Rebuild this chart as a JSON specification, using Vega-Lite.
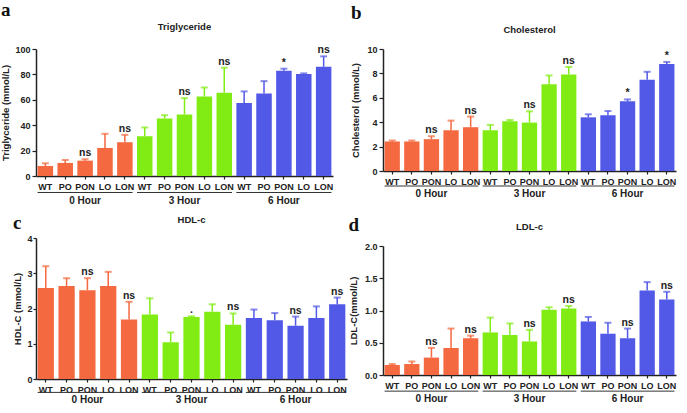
{
  "$schema": "https://vega.github.io/schema/vega-lite/v6.json",
  "padding": {"left": 0, "top": 0, "right": 2, "bottom": 0},
  "background": "white",
  "config": {
    "view": {"stroke": null},
    "axis": {"grid": false, "labelOverlap": false, "labelSeparation": 0, "labelFlush": false, "domainColor": "#222", "domainWidth": 1.5, "tickColor": "#222", "tickWidth": 1.2, "labelColor": "#222", "labelFont": "Liberation Sans", "labelFontWeight": "bold", "labelFontSize": 9, "titleFont": "Liberation Sans", "titleFontWeight": "bold", "titleFontSize": 9.5, "titleColor": "#222"},
    "title": {"font": "Liberation Sans", "fontSize": 9.5, "fontWeight": "bold", "color": "#222"}
  },
  "datasets": {
    "tg": [
      {"time": "0 Hour", "cond": "WT", "key": "0 Hour WT", "mean": 7.9, "upper": 10.0, "sig": ""},
      {"time": "0 Hour", "cond": "PO", "key": "0 Hour PO", "mean": 10.3, "upper": 12.6, "sig": ""},
      {"time": "0 Hour", "cond": "PON", "key": "0 Hour PON", "mean": 12.1, "upper": 13.2, "sig": "ns"},
      {"time": "0 Hour", "cond": "LO", "key": "0 Hour LO", "mean": 22.1, "upper": 33.2, "sig": ""},
      {"time": "0 Hour", "cond": "LON", "key": "0 Hour LON", "mean": 26.6, "upper": 32.4, "sig": "ns"},
      {"time": "3 Hour", "cond": "WT", "key": "3 Hour WT", "mean": 31.3, "upper": 38.2, "sig": ""},
      {"time": "3 Hour", "cond": "PO", "key": "3 Hour PO", "mean": 45.3, "upper": 47.9, "sig": ""},
      {"time": "3 Hour", "cond": "PON", "key": "3 Hour PON", "mean": 48.4, "upper": 61.3, "sig": "ns"},
      {"time": "3 Hour", "cond": "LO", "key": "3 Hour LO", "mean": 62.6, "upper": 69.7, "sig": ""},
      {"time": "3 Hour", "cond": "LON", "key": "3 Hour LON", "mean": 65.5, "upper": 85.3, "sig": "ns"},
      {"time": "6 Hour", "cond": "WT", "key": "6 Hour WT", "mean": 57.4, "upper": 66.6, "sig": ""},
      {"time": "6 Hour", "cond": "PO", "key": "6 Hour PO", "mean": 65.0, "upper": 74.7, "sig": ""},
      {"time": "6 Hour", "cond": "PON", "key": "6 Hour PON", "mean": 82.9, "upper": 84.5, "sig": "*"},
      {"time": "6 Hour", "cond": "LO", "key": "6 Hour LO", "mean": 80.3, "upper": 80.8, "sig": ""},
      {"time": "6 Hour", "cond": "LON", "key": "6 Hour LON", "mean": 86.0, "upper": 94.2, "sig": "ns"}
    ],
    "chol": [
      {"time": "0 Hour", "cond": "WT", "key": "0 Hour WT", "mean": 2.42, "upper": 2.5, "sig": ""},
      {"time": "0 Hour", "cond": "PO", "key": "0 Hour PO", "mean": 2.42, "upper": 2.5, "sig": ""},
      {"time": "0 Hour", "cond": "PON", "key": "0 Hour PON", "mean": 2.61, "upper": 2.85, "sig": "ns"},
      {"time": "0 Hour", "cond": "LO", "key": "0 Hour LO", "mean": 3.34, "upper": 4.13, "sig": ""},
      {"time": "0 Hour", "cond": "LON", "key": "0 Hour LON", "mean": 3.59, "upper": 4.46, "sig": "ns"},
      {"time": "3 Hour", "cond": "WT", "key": "3 Hour WT", "mean": 3.34, "upper": 3.78, "sig": ""},
      {"time": "3 Hour", "cond": "PO", "key": "3 Hour PO", "mean": 4.08, "upper": 4.18, "sig": ""},
      {"time": "3 Hour", "cond": "PON", "key": "3 Hour PON", "mean": 3.97, "upper": 4.89, "sig": "ns"},
      {"time": "3 Hour", "cond": "LO", "key": "3 Hour LO", "mean": 7.12, "upper": 7.83, "sig": ""},
      {"time": "3 Hour", "cond": "LON", "key": "3 Hour LON", "mean": 7.91, "upper": 8.53, "sig": "ns"},
      {"time": "6 Hour", "cond": "WT", "key": "6 Hour WT", "mean": 4.4, "upper": 4.65, "sig": ""},
      {"time": "6 Hour", "cond": "PO", "key": "6 Hour PO", "mean": 4.57, "upper": 4.92, "sig": ""},
      {"time": "6 Hour", "cond": "PON", "key": "6 Hour PON", "mean": 5.71, "upper": 5.87, "sig": "*"},
      {"time": "6 Hour", "cond": "LO", "key": "6 Hour LO", "mean": 7.47, "upper": 8.13, "sig": ""},
      {"time": "6 Hour", "cond": "LON", "key": "6 Hour LON", "mean": 8.78, "upper": 8.94, "sig": "*"}
    ],
    "hdl": [
      {"time": "0 Hour", "cond": "WT", "key": "0 Hour WT", "mean": 2.58, "upper": 3.2, "sig": ""},
      {"time": "0 Hour", "cond": "PO", "key": "0 Hour PO", "mean": 2.64, "upper": 2.86, "sig": ""},
      {"time": "0 Hour", "cond": "PON", "key": "0 Hour PON", "mean": 2.52, "upper": 2.86, "sig": "ns"},
      {"time": "0 Hour", "cond": "LO", "key": "0 Hour LO", "mean": 2.64, "upper": 3.04, "sig": ""},
      {"time": "0 Hour", "cond": "LON", "key": "0 Hour LON", "mean": 1.69, "upper": 2.19, "sig": "ns"},
      {"time": "3 Hour", "cond": "WT", "key": "3 Hour WT", "mean": 1.83, "upper": 2.29, "sig": ""},
      {"time": "3 Hour", "cond": "PO", "key": "3 Hour PO", "mean": 1.04, "upper": 1.32, "sig": ""},
      {"time": "3 Hour", "cond": "PON", "key": "3 Hour PON", "mean": 1.76, "upper": 1.78, "sig": "."},
      {"time": "3 Hour", "cond": "LO", "key": "3 Hour LO", "mean": 1.91, "upper": 2.12, "sig": ""},
      {"time": "3 Hour", "cond": "LON", "key": "3 Hour LON", "mean": 1.54, "upper": 1.86, "sig": "ns"},
      {"time": "6 Hour", "cond": "WT", "key": "6 Hour WT", "mean": 1.73, "upper": 1.97, "sig": ""},
      {"time": "6 Hour", "cond": "PO", "key": "6 Hour PO", "mean": 1.67, "upper": 1.87, "sig": ""},
      {"time": "6 Hour", "cond": "PON", "key": "6 Hour PON", "mean": 1.51, "upper": 1.77, "sig": "ns"},
      {"time": "6 Hour", "cond": "LO", "key": "6 Hour LO", "mean": 1.73, "upper": 2.06, "sig": ""},
      {"time": "6 Hour", "cond": "LON", "key": "6 Hour LON", "mean": 2.12, "upper": 2.31, "sig": "ns"}
    ],
    "ldl": [
      {"time": "0 Hour", "cond": "WT", "key": "0 Hour WT", "mean": 0.155, "upper": 0.17, "sig": ""},
      {"time": "0 Hour", "cond": "PO", "key": "0 Hour PO", "mean": 0.17, "upper": 0.21, "sig": ""},
      {"time": "0 Hour", "cond": "PON", "key": "0 Hour PON", "mean": 0.27, "upper": 0.42, "sig": "ns"},
      {"time": "0 Hour", "cond": "LO", "key": "0 Hour LO", "mean": 0.42, "upper": 0.72, "sig": ""},
      {"time": "0 Hour", "cond": "LON", "key": "0 Hour LON", "mean": 0.57, "upper": 0.61, "sig": "ns"},
      {"time": "3 Hour", "cond": "WT", "key": "3 Hour WT", "mean": 0.66, "upper": 0.89, "sig": ""},
      {"time": "3 Hour", "cond": "PO", "key": "3 Hour PO", "mean": 0.62, "upper": 0.8, "sig": ""},
      {"time": "3 Hour", "cond": "PON", "key": "3 Hour PON", "mean": 0.52, "upper": 0.7, "sig": "ns"},
      {"time": "3 Hour", "cond": "LO", "key": "3 Hour LO", "mean": 1.01, "upper": 1.05, "sig": ""},
      {"time": "3 Hour", "cond": "LON", "key": "3 Hour LON", "mean": 1.03, "upper": 1.07, "sig": "ns"},
      {"time": "6 Hour", "cond": "WT", "key": "6 Hour WT", "mean": 0.83, "upper": 0.9, "sig": ""},
      {"time": "6 Hour", "cond": "PO", "key": "6 Hour PO", "mean": 0.64, "upper": 0.81, "sig": ""},
      {"time": "6 Hour", "cond": "PON", "key": "6 Hour PON", "mean": 0.57, "upper": 0.72, "sig": "ns"},
      {"time": "6 Hour", "cond": "LO", "key": "6 Hour LO", "mean": 1.31, "upper": 1.44, "sig": ""},
      {"time": "6 Hour", "cond": "LON", "key": "6 Hour LON", "mean": 1.17, "upper": 1.29, "sig": "ns"}
    ],
    "groups": [
      {"time": "0 Hour", "first": "0 Hour WT", "mid": "0 Hour PON", "last": "0 Hour LON"},
      {"time": "3 Hour", "first": "3 Hour WT", "mid": "3 Hour PON", "last": "3 Hour LON"},
      {"time": "6 Hour", "first": "6 Hour WT", "mid": "6 Hour PON", "last": "6 Hour LON"}
    ]
  },
  "spacing": 1,
  "hconcat": [
    {
      "spacing": 6,
      "vconcat": [
        {
          "title": {"text": "a", "anchor": "start", "frame": "bounds", "font": "Liberation Serif", "fontSize": 19, "fontWeight": "bold", "color": "#111", "offset": 2},
          "vconcat": [
            {
              "width": 297, "height": 127,
              "title": {"text": "Triglyceride", "offset": 14},
              "layer": [
                {
                  "data": {"name": "tg"},
                  "encoding": {
                    "x": {"field": "key", "type": "nominal", "scale": {"domain": ["0 Hour WT","0 Hour PO","0 Hour PON","0 Hour LO","0 Hour LON","3 Hour WT","3 Hour PO","3 Hour PON","3 Hour LO","3 Hour LON","6 Hour WT","6 Hour PO","6 Hour PON","6 Hour LO","6 Hour LON"], "paddingInner": 0.22, "paddingOuter": 0.08}, "axis": {"title": null, "labelAngle": 0, "labelExpr": "split(datum.label, ' ')[2]", "tickSize": 3, "labelPadding": 3}},
                    "y": {"field": "mean", "type": "quantitative", "title": "Triglyceride (mmol/L)", "scale": {"domain": [0, 100], "nice": false}, "axis": {"values": [0, 20, 40, 60, 80, 100], "labelOverlap": false, "tickSize": 4, "titlePadding": 4}},
                    "color": {"field": "time", "type": "nominal", "scale": {"domain": ["0 Hour", "3 Hour", "6 Hour"], "range": ["#F4693F", "#80EC14", "#5259E6"]}, "legend": null}
                  },
                  "layer": [
                    {"mark": {"type": "bar"}},
                    {"mark": {"type": "rule", "strokeWidth": 1.5}, "encoding": {"y2": {"field": "upper"}}},
                    {"mark": {"type": "tick", "thickness": 2, "size": 7}, "encoding": {"y": {"field": "upper", "type": "quantitative", "title": "Triglyceride (mmol/L)", "axis": {"values": [0, 20, 40, 60, 80, 100], "labelOverlap": false, "tickSize": 4, "titlePadding": 4}}}},
                    {"mark": {"type": "text", "baseline": "bottom", "dy": -1, "font": "Liberation Sans", "fontWeight": "bold", "fontSize": 10.5}, "encoding": {"y": {"field": "upper", "type": "quantitative", "title": "Triglyceride (mmol/L)", "axis": {"values": [0, 20, 40, 60, 80, 100], "labelOverlap": false, "tickSize": 4, "titlePadding": 4}}, "text": {"field": "sig"}, "color": {"value": "#222"}}}
                  ]
                },
                {"data": {"name": "groups"}, "mark": {"type": "rule", "color": "#333", "strokeWidth": 1},
                 "encoding": {"x": {"field": "first", "type": "nominal", "bandPosition": 0}, "x2": {"field": "last", "bandPosition": 1}, "y": {"datum": -13, "type": "quantitative", "title": "Triglyceride (mmol/L)", "axis": {"values": [0, 20, 40, 60, 80, 100], "labelOverlap": false, "tickSize": 4, "titlePadding": 4}}}},
                {"data": {"name": "groups"}, "mark": {"type": "text", "baseline": "middle", "font": "Liberation Sans", "fontWeight": "bold", "fontSize": 10, "color": "#222"},
                 "encoding": {"x": {"field": "mid", "type": "nominal"}, "y": {"datum": -20, "type": "quantitative", "title": "Triglyceride (mmol/L)", "axis": {"values": [0, 20, 40, 60, 80, 100], "labelOverlap": false, "tickSize": 4, "titlePadding": 4}}, "text": {"field": "time"}}}
              ]
            }
          ]
        },
        {
          "title": {"text": "c", "anchor": "start", "frame": "bounds", "font": "Liberation Serif", "fontSize": 19, "fontWeight": "bold", "color": "#111", "offset": -18},
          "vconcat": [
            {
              "width": 311, "height": 141,
              "title": {"text": "HDL-c", "offset": 10},
              "layer": [
                {
                  "data": {"name": "hdl"},
                  "encoding": {
                    "x": {"field": "key", "type": "nominal", "scale": {"domain": ["0 Hour WT","0 Hour PO","0 Hour PON","0 Hour LO","0 Hour LON","3 Hour WT","3 Hour PO","3 Hour PON","3 Hour LO","3 Hour LON","6 Hour WT","6 Hour PO","6 Hour PON","6 Hour LO","6 Hour LON"], "paddingInner": 0.22, "paddingOuter": 0.08}, "axis": {"title": null, "labelAngle": 0, "labelExpr": "split(datum.label, ' ')[2]", "tickSize": 3, "labelPadding": 3}},
                    "y": {"field": "mean", "type": "quantitative", "title": "HDL-C (mmol/L)", "scale": {"domain": [0, 4], "nice": false}, "axis": {"values": [0, 1, 2, 3, 4], "labelOverlap": false, "tickSize": 3, "labelPadding": 1, "titlePadding": 4}},
                    "color": {"field": "time", "type": "nominal", "scale": {"domain": ["0 Hour", "3 Hour", "6 Hour"], "range": ["#F4693F", "#80EC14", "#5259E6"]}, "legend": null}
                  },
                  "layer": [
                    {"mark": {"type": "bar"}},
                    {"mark": {"type": "rule", "strokeWidth": 1.5}, "encoding": {"y2": {"field": "upper"}}},
                    {"mark": {"type": "tick", "thickness": 2, "size": 7}, "encoding": {"y": {"field": "upper", "type": "quantitative", "title": "HDL-C (mmol/L)", "axis": {"values": [0, 1, 2, 3, 4], "labelOverlap": false, "tickSize": 3, "labelPadding": 1, "titlePadding": 4}}}},
                    {"mark": {"type": "text", "baseline": "bottom", "dy": -1, "font": "Liberation Sans", "fontWeight": "bold", "fontSize": 10.5}, "encoding": {"y": {"field": "upper", "type": "quantitative", "title": "HDL-C (mmol/L)", "axis": {"values": [0, 1, 2, 3, 4], "labelOverlap": false, "tickSize": 3, "labelPadding": 1, "titlePadding": 4}}, "text": {"field": "sig"}, "color": {"value": "#222"}}}
                  ]
                },
                {"data": {"name": "groups"}, "mark": {"type": "rule", "color": "#333", "strokeWidth": 1},
                 "encoding": {"x": {"field": "first", "type": "nominal", "bandPosition": 0}, "x2": {"field": "last", "bandPosition": 1}, "y": {"datum": -0.38, "type": "quantitative", "title": "HDL-C (mmol/L)", "axis": {"values": [0, 1, 2, 3, 4], "labelOverlap": false, "tickSize": 3, "labelPadding": 1, "titlePadding": 4}}}},
                {"data": {"name": "groups"}, "mark": {"type": "text", "baseline": "middle", "font": "Liberation Sans", "fontWeight": "bold", "fontSize": 10, "color": "#222"},
                 "encoding": {"x": {"field": "mid", "type": "nominal"}, "y": {"datum": -0.6, "type": "quantitative", "title": "HDL-C (mmol/L)", "axis": {"values": [0, 1, 2, 3, 4], "labelOverlap": false, "tickSize": 3, "labelPadding": 1, "titlePadding": 4}}, "text": {"field": "time"}}}
              ]
            }
          ]
        }
      ]
    },
    {
      "spacing": 15,
      "vconcat": [
        {
          "title": {"text": "b", "anchor": "start", "frame": "bounds", "font": "Liberation Serif", "fontSize": 19, "fontWeight": "bold", "color": "#111", "offset": 2},
          "vconcat": [
            {
              "width": 293, "height": 122,
              "title": {"text": "Cholesterol", "offset": 20, "dy": 9},
              "layer": [
                {
                  "data": {"name": "chol"},
                  "encoding": {
                    "x": {"field": "key", "type": "nominal", "scale": {"domain": ["0 Hour WT","0 Hour PO","0 Hour PON","0 Hour LO","0 Hour LON","3 Hour WT","3 Hour PO","3 Hour PON","3 Hour LO","3 Hour LON","6 Hour WT","6 Hour PO","6 Hour PON","6 Hour LO","6 Hour LON"], "paddingInner": 0.22, "paddingOuter": 0.08}, "axis": {"title": null, "labelAngle": 0, "labelExpr": "split(datum.label, ' ')[2]", "tickSize": 3, "labelPadding": 3}},
                    "y": {"field": "mean", "type": "quantitative", "title": "Cholesterol (mmol/L)", "scale": {"domain": [0, 10], "nice": false}, "axis": {"values": [0, 2, 4, 6, 8, 10], "labelOverlap": false, "tickSize": 4, "titlePadding": 6}},
                    "color": {"field": "time", "type": "nominal", "scale": {"domain": ["0 Hour", "3 Hour", "6 Hour"], "range": ["#F4693F", "#80EC14", "#5259E6"]}, "legend": null}
                  },
                  "layer": [
                    {"mark": {"type": "bar"}},
                    {"mark": {"type": "rule", "strokeWidth": 1.5}, "encoding": {"y2": {"field": "upper"}}},
                    {"mark": {"type": "tick", "thickness": 2, "size": 7}, "encoding": {"y": {"field": "upper", "type": "quantitative", "title": "Cholesterol (mmol/L)", "axis": {"values": [0, 2, 4, 6, 8, 10], "labelOverlap": false, "tickSize": 4, "titlePadding": 6}}}},
                    {"mark": {"type": "text", "baseline": "bottom", "dy": -1, "font": "Liberation Sans", "fontWeight": "bold", "fontSize": 10.5}, "encoding": {"y": {"field": "upper", "type": "quantitative", "title": "Cholesterol (mmol/L)", "axis": {"values": [0, 2, 4, 6, 8, 10], "labelOverlap": false, "tickSize": 4, "titlePadding": 6}}, "text": {"field": "sig"}, "color": {"value": "#222"}}}
                  ]
                },
                {"data": {"name": "groups"}, "mark": {"type": "rule", "color": "#333", "strokeWidth": 1},
                 "encoding": {"x": {"field": "first", "type": "nominal", "bandPosition": 0}, "x2": {"field": "last", "bandPosition": 1}, "y": {"datum": -1.23, "type": "quantitative", "title": "Cholesterol (mmol/L)", "axis": {"values": [0, 2, 4, 6, 8, 10], "labelOverlap": false, "tickSize": 4, "titlePadding": 6}}}},
                {"data": {"name": "groups"}, "mark": {"type": "text", "baseline": "middle", "font": "Liberation Sans", "fontWeight": "bold", "fontSize": 10, "color": "#222"},
                 "encoding": {"x": {"field": "mid", "type": "nominal"}, "y": {"datum": -1.89, "type": "quantitative", "title": "Cholesterol (mmol/L)", "axis": {"values": [0, 2, 4, 6, 8, 10], "labelOverlap": false, "tickSize": 4, "titlePadding": 6}}, "text": {"field": "time"}}}
              ]
            }
          ]
        },
        {
          "title": {"text": "d", "anchor": "start", "frame": "bounds", "font": "Liberation Serif", "fontSize": 19, "fontWeight": "bold", "color": "#111", "offset": -18, "dy": -5},
          "vconcat": [
            {
              "width": 293, "height": 129,
              "title": {"text": "LDL-c", "offset": 11},
              "layer": [
                {
                  "data": {"name": "ldl"},
                  "encoding": {
                    "x": {"field": "key", "type": "nominal", "scale": {"domain": ["0 Hour WT","0 Hour PO","0 Hour PON","0 Hour LO","0 Hour LON","3 Hour WT","3 Hour PO","3 Hour PON","3 Hour LO","3 Hour LON","6 Hour WT","6 Hour PO","6 Hour PON","6 Hour LO","6 Hour LON"], "paddingInner": 0.22, "paddingOuter": 0.08}, "axis": {"title": null, "labelAngle": 0, "labelExpr": "split(datum.label, ' ')[2]", "tickSize": 3, "labelPadding": 3}},
                    "y": {"field": "mean", "type": "quantitative", "title": "LDL-C(mmol/L)", "scale": {"domain": [0, 2], "nice": false}, "axis": {"values": [0, 0.5, 1, 1.5, 2], "labelOverlap": false, "format": ".1f", "tickSize": 4, "titlePadding": 6}},
                    "color": {"field": "time", "type": "nominal", "scale": {"domain": ["0 Hour", "3 Hour", "6 Hour"], "range": ["#F4693F", "#80EC14", "#5259E6"]}, "legend": null}
                  },
                  "layer": [
                    {"mark": {"type": "bar"}},
                    {"mark": {"type": "rule", "strokeWidth": 1.5}, "encoding": {"y2": {"field": "upper"}}},
                    {"mark": {"type": "tick", "thickness": 2, "size": 7}, "encoding": {"y": {"field": "upper", "type": "quantitative", "title": "LDL-C(mmol/L)", "axis": {"values": [0, 0.5, 1, 1.5, 2], "labelOverlap": false, "format": ".1f", "tickSize": 4, "titlePadding": 6}}}},
                    {"mark": {"type": "text", "baseline": "bottom", "dy": -1, "font": "Liberation Sans", "fontWeight": "bold", "fontSize": 10.5}, "encoding": {"y": {"field": "upper", "type": "quantitative", "title": "LDL-C(mmol/L)", "axis": {"values": [0, 0.5, 1, 1.5, 2], "labelOverlap": false, "format": ".1f", "tickSize": 4, "titlePadding": 6}}, "text": {"field": "sig"}, "color": {"value": "#222"}}}
                  ]
                },
                {"data": {"name": "groups"}, "mark": {"type": "rule", "color": "#333", "strokeWidth": 1},
                 "encoding": {"x": {"field": "first", "type": "nominal", "bandPosition": 0}, "x2": {"field": "last", "bandPosition": 1}, "y": {"datum": -0.25, "type": "quantitative", "title": "LDL-C(mmol/L)", "axis": {"values": [0, 0.5, 1, 1.5, 2], "labelOverlap": false, "format": ".1f", "tickSize": 4, "titlePadding": 6}}}},
                {"data": {"name": "groups"}, "mark": {"type": "text", "baseline": "middle", "font": "Liberation Sans", "fontWeight": "bold", "fontSize": 10, "color": "#222"},
                 "encoding": {"x": {"field": "mid", "type": "nominal"}, "y": {"datum": -0.37, "type": "quantitative", "title": "LDL-C(mmol/L)", "axis": {"values": [0, 0.5, 1, 1.5, 2], "labelOverlap": false, "format": ".1f", "tickSize": 4, "titlePadding": 6}}, "text": {"field": "time"}}}
              ]
            }
          ]
        }
      ]
    }
  ]
}
